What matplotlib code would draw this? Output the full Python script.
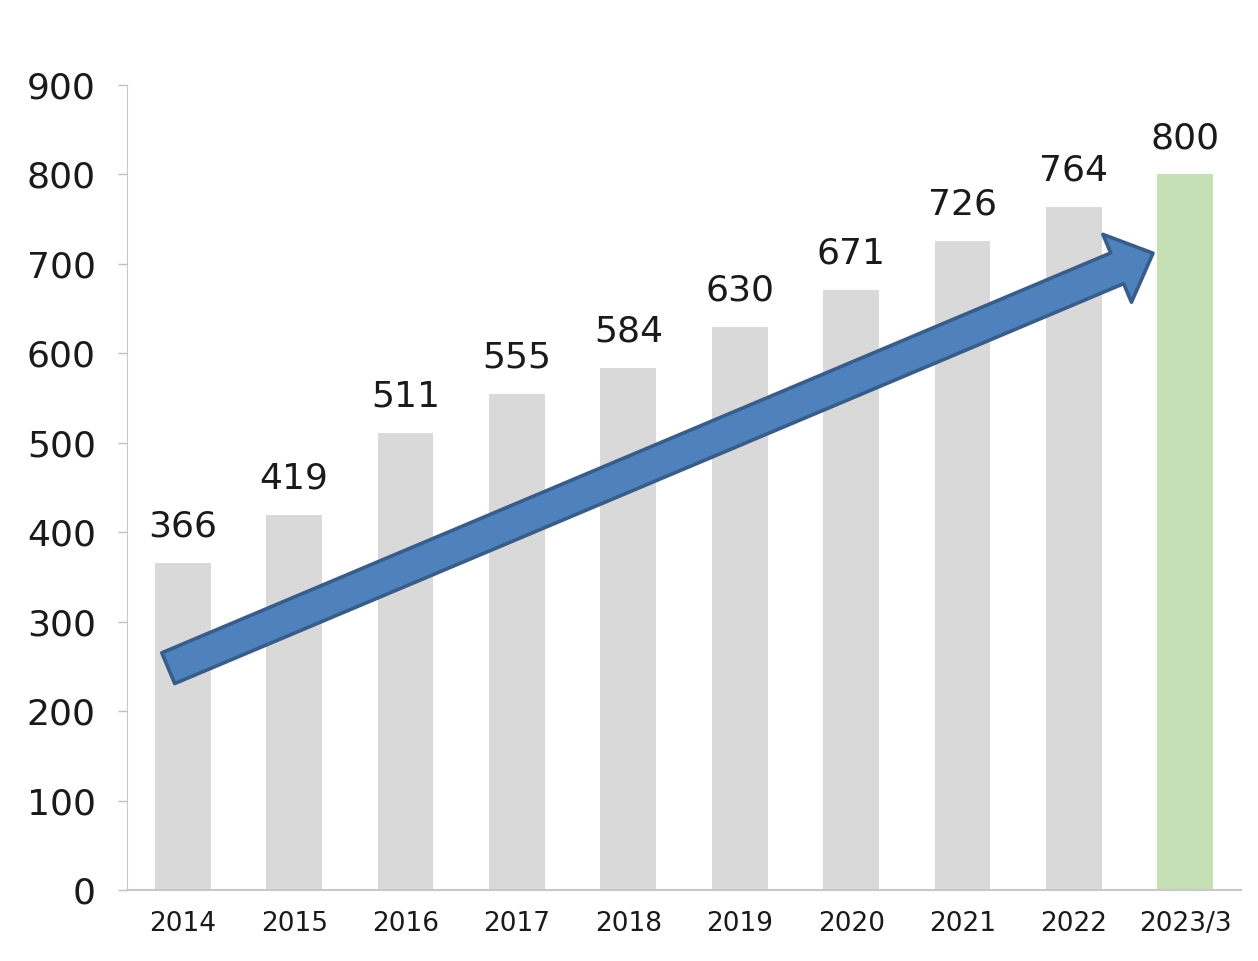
import matplotlib
matplotlib.use("Agg")
import matplotlib.pyplot as plt
from matplotlib.patches import FancyArrowPatch

# values
years  = ['2014','2015','2016','2017','2018','2019','2020','2021','2022','2023/3']
values = [366, 419, 511, 555, 584, 630, 671, 726, 764, 800]
yticks = [0, 100, 200, 300, 400, 500, 600, 700, 800, 900]

gray  = '#d9d9d9'
green = '#c5e0b4'
colors = [gray]*(len(years)-1) + [green]

fig = plt.figure(figsize=(12.58, 9.61), dpi=100)
ax = fig.add_axes([0.101, 0.0739, 0.8855, 0.8376])

xpos = range(len(years))
bars = ax.bar(xpos, values, width=0.5, color=colors, zorder=2)
ax.bar_label(bars, labels=[str(v) for v in values], padding=14, fontsize=26, color='#1a1a1a')

ax.set_xlim(-0.5, len(years)-0.5)
ax.set_ylim(0, 900)
ax.set_yticks(yticks)
ax.set_yticklabels([str(t) for t in yticks], fontsize=26, color='#1a1a1a')
ax.set_xticks(list(xpos))
ax.set_xticklabels(years, fontsize=19, color='#1a1a1a')

ax.tick_params(axis='y', length=6.5, width=1, color='#bfbfbf', pad=16)
ax.tick_params(axis='x', length=0, pad=15)
for s in ['top', 'right']:
    ax.spines[s].set_visible(False)
ax.spines['left'].set_color('#c8c8c8')
ax.spines['bottom'].set_color('#c8c8c8')
ax.spines['bottom'].set_linewidth(1.5)

# growth arrow across the bars
arrow = FancyArrowPatch((-0.13, 248), (8.71, 712),
                        arrowstyle='simple,tail_width=24,head_width=53,head_length=28',
                        mutation_scale=1, shrinkA=0, shrinkB=0,
                        facecolor='#4f81bd', edgecolor='#385d8a', linewidth=2.6, zorder=5)
ax.add_patch(arrow)

fig.savefig('out.png', dpi=100)
